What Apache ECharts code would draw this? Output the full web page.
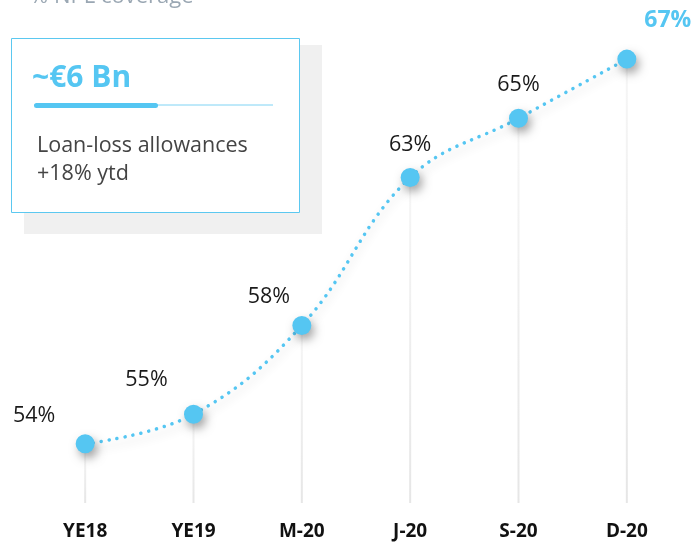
<!DOCTYPE html>
<html>
<head>
<meta charset="utf-8">
<script src="https://cdn.jsdelivr.net/npm/echarts@6/dist/echarts.min.js"></script>
<style>
  html, body { margin: 0; padding: 0; background: #fff; }
  #chart { width: 697px; height: 544px; }
</style>
</head>
<body>
<div id="chart"></div>
<script>
  const categories = ['YE18', 'YE19', 'M-20', 'J-20', 'S-20', 'D-20'];
  const coverage = [54, 55, 58, 63, 65, 67];
  const labelOffsets = [[-51, -28], [-47, -34], [-33, -29], [0, -33], [0, -33], [41, -39]];

  const blue = '#55c6f2';
  const font = '"Open Sans", "Noto Sans", sans-serif';

  const chart = echarts.init(document.getElementById('chart'));

  const lineData = coverage.map((v, i) => {
    const last = i === coverage.length - 1;
    return {
      value: v,
      label: {
        offset: labelOffsets[i],
        color: last ? blue : '#1a1a1a',
        fontWeight: last ? 'bold' : 'normal',
        fontSize: last ? 23 : 21.5,
      },
    };
  });

  chart.setOption({
    animation: false,
    grid: { left: 31, right: 16, top: 29.5, bottom: 41 },
    xAxis: {
      type: 'category',
      data: categories,
      axisLine: { show: false },
      axisTick: { show: false },
      axisLabel: {
        color: '#111',
        fontWeight: 'bold',
        fontSize: 19,
        fontFamily: font,
        margin: 19,
      },
    },
    yAxis: {
      type: 'value',
      min: 52,
      max: 68,
      show: false,
      splitLine: { show: false },
    },
    graphic: [
      {
        type: 'text',
        left: 30,
        top: -14,
        style: { text: '% NPL coverage', fill: '#9aa7b3', font: '22px ' + font },
      },
      {
        type: 'rect',
        shape: { x: 24, y: 45, width: 298, height: 189 },
        style: { fill: '#f0f0f0' },
        z: 1,
      },
      {
        type: 'rect',
        shape: { x: 11.5, y: 38.5, width: 288, height: 174 },
        style: { fill: '#fff', stroke: '#5bc8f0', lineWidth: 1 },
        z: 2,
      },
      {
        type: 'text',
        x: 32,
        y: 63,
        z: 3,
        style: { text: '~€6 Bn', fill: blue, font: 'bold 30px ' + font },
      },
      {
        type: 'line',
        z: 3,
        shape: { x1: 34, y1: 105, x2: 273, y2: 105 },
        style: { stroke: '#7fd3f4', lineWidth: 1 },
      },
      {
        type: 'rect',
        z: 3,
        shape: { x: 34, y: 103, width: 124, height: 5, r: 2.5 },
        style: { fill: blue },
      },
      {
        type: 'text',
        x: 37,
        y: 132,
        z: 3,
        style: {
          text: 'Loan-loss allowances\n+18% ytd',
          fill: '#444',
          font: '21.5px ' + font,
          lineHeight: 28,
        },
      },
    ],
    series: [
      {
        type: 'bar',
        data: coverage,
        barWidth: 2,
        silent: true,
        itemStyle: {
          color: new echarts.graphic.LinearGradient(0, 0, 0, 1, [
            { offset: 0, color: '#f6f6f6' },
            { offset: 1, color: '#e6e6e6' },
          ]),
        },
        z: 1,
      },
      {
        type: 'line',
        data: lineData,
        smooth: 0.4,
        symbol: 'circle',
        symbolSize: 19,
        itemStyle: {
          color: blue,
          shadowBlur: 10,
          shadowColor: 'rgba(0,0,0,0.35)',
          shadowOffsetX: 3,
          shadowOffsetY: 5,
        },
        lineStyle: {
          color: blue,
          width: 3.5,
          type: [0.1, 8],
          cap: 'round',
          shadowBlur: 10,
          shadowColor: 'rgba(0,0,0,0.2)',
          shadowOffsetY: 6,
        },
        label: {
          show: true,
          position: 'inside',
          formatter: '{c}%',
          fontFamily: font,
        },
        z: 3,
      },
    ],
  });
</script>
</body>
</html>
